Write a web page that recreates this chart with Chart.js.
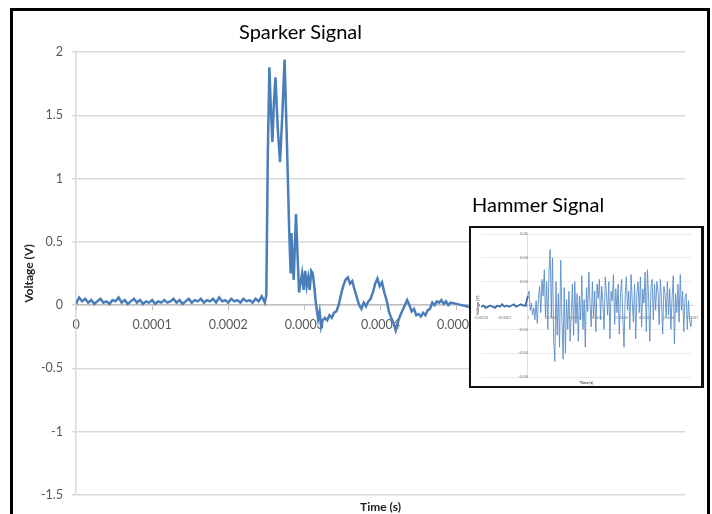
<!DOCTYPE html>
<html>
<head>
<meta charset="utf-8">
<script src="https://cdn.jsdelivr.net/npm/chart.js@4.4.0/dist/chart.umd.min.js"></script>
<style>
html, body { margin: 0; padding: 0; background: #fff; }
#page { position: relative; width: 712px; height: 514px; overflow: hidden; font-family: Lato, "Open Sans", sans-serif; }
#mainChart { position: absolute; left: 0; top: 0; }
#frame { position: absolute; left: 10px; top: 8px; width: 700px; height: 530px; border: 3px solid #000; box-sizing: border-box; pointer-events: none; }
.label { position: absolute; font-size: 20px; color: #000; white-space: nowrap; line-height: 1; }
#inset { position: absolute; left: 469px; top: 226px; width: 235px; height: 162px; border: 2px solid #111; border-right-width: 3px; box-sizing: border-box; background: #fff; }
#insetChart { position: absolute; left: 0; top: 0; }
</style>
</head>
<body>
<div id="page">
  <canvas id="mainChart" width="712" height="514"></canvas>
  <div class="label" id="sparkerTitle" style="left:239px; top:21px;">Sparker Signal</div>
  <div class="label" id="hammerTitle" style="left:472px; top:194px;">Hammer Signal</div>
  <div id="inset"><canvas id="insetChart" width="230" height="158"></canvas></div>
  <div id="frame"></div>
</div>
<script>
// Sparker signal: time in microseconds, voltage in V
const sparkerTimeUs = [
  0, 4, 8, 12, 16, 20, 24, 28, 32, 36, 40, 44, 48, 52, 56, 60, 64, 68, 72, 76,
  80, 84, 88, 92, 96, 100, 104, 108, 112, 116, 120, 124, 128, 132, 136, 140, 144, 148, 152, 156,
  160, 164, 168, 172, 176, 180, 184, 188, 192, 196, 200, 204, 208, 212, 216, 220, 224, 228, 232, 236,
  240, 244, 248, 250, 252, 254, 256, 258, 260, 262, 265, 268, 271, 274, 277, 280, 282, 283, 285, 286,
  288, 289, 291, 293, 295, 297, 299, 301, 303, 305, 307, 309, 311, 313, 315, 318, 320, 322, 324, 327,
  330, 333, 336, 339, 342, 345, 348, 351, 354, 357, 360, 363, 366, 369, 372, 375, 378, 381, 384, 387,
  390, 393, 396, 399, 402, 405, 408, 411, 414, 417, 420, 423, 426, 429, 432, 435, 438, 441, 444, 447,
  450, 453, 456, 459, 462, 465, 468, 471, 474, 477, 480, 483, 486, 489, 492, 500, 520, 540, 560, 580,
  600, 620, 640, 660, 680, 700, 720, 740, 760, 780, 800
];
const sparkerVolt = [
  0.01, 0.06, 0.03, 0.05, 0.02, 0.04, 0.01, 0.03, 0.05, 0.02, 0.03, 0.01, 0.04, 0.03, 0.06, 0.02, 0.04, 0.01, 0.03, 0.05,
  0.02, 0.04, 0.01, 0.03, 0.02, 0.04, 0.01, 0.03, 0.02, 0.04, 0.02, 0.03, 0.05, 0.02, 0.04, 0.01, 0.03, 0.05, 0.02, 0.04,
  0.03, 0.05, 0.02, 0.04, 0.03, 0.05, 0.02, 0.06, 0.03, 0.04, 0.02, 0.05, 0.03, 0.04, 0.02, 0.05, 0.03, 0.04, 0.02, 0.05,
  0.03, 0.07, 0.02, 0.08, 1.2, 1.88, 1.55, 1.29, 1.6, 1.8, 1.4, 1.13, 1.5, 1.94, 1.3, 0.6, 0.25, 0.57, 0.3, 0.2,
  0.55, 0.72, 0.4, 0.1, 0.18, 0.25, 0.12, 0.27, 0.15, 0.22, 0.12, 0.27, 0.25, 0.15, 0.02, -0.11, -0.05, -0.17, -0.12, -0.1,
  -0.12, -0.08, -0.1, -0.06, -0.05, 0.0, 0.08, 0.15, 0.2, 0.22, 0.17, 0.19, 0.12, 0.06, 0.0, -0.03, 0.02, -0.01, 0.03, 0.05,
  0.1, 0.17, 0.21, 0.15, 0.18, 0.1, 0.04, -0.05, -0.1, -0.14, -0.2, -0.13, -0.08, -0.04, 0.0, 0.04, 0.0, -0.05, -0.03, -0.08,
  -0.07, -0.09, -0.06, -0.08, -0.04, -0.03, 0.02, 0.0, 0.03, 0.02, 0.04, 0.01, 0.03, 0.0, 0.02, 0.01, -0.02, 0.03, 0.0, 0.02,
  -0.01, 0.02, 0.0, 0.01, -0.01, 0.02, 0.0, 0.01, 0.0, 0.01, 0.0
];

// Hammer signal (inset): pre-trigger every 10 us from -200, post-trigger every 5 us from 0
const hammerPreStartUs = -200;
const hammerPreStepUs = 10;
const hammerPreVolt = [
  -0.001, 0.000, -0.002, -0.001, 0.000, -0.001, -0.002, 0.000, -0.001, 0.001,
  -0.001, 0.000, -0.001, 0.000, 0.001, -0.001, 0.000, 0.001, 0.000, 0.000
];
const hammerPostStepUs = 5;
const hammerPostVolt = [
  0.008, 0.012, -0.004, 0.002, -0.008, -0.002, -0.012, 0.004, -0.015, 0.006, 0.016, -0.006, 0.022, 0.008, 0.03, -0.01, 0.02, -0.02, 0.028, 0.047,
  -0.01, 0.04, -0.03, -0.047, 0.02, -0.025, 0.01, -0.035, 0.038, -0.01, -0.045, 0.015, -0.04, 0.005, -0.02, 0.012, -0.03, -0.008, 0.018, -0.025,
  0.02, -0.015, 0.01, -0.03, 0.008, -0.012, 0.025, -0.02, 0.005, -0.035, 0.015, -0.005, 0.028, 0.002, -0.018, 0.02, -0.01, 0.012, -0.022, 0.018,
  0.006, 0.022, -0.012, 0.016, 0.002, -0.02, 0.024, 0.01, -0.008, 0.02, -0.028, 0.012, 0.004, 0.026, -0.016, 0.014, -0.006, 0.018, -0.024, 0.01,
  0.022, -0.01, -0.035, 0.008, 0.024, -0.004, 0.012, -0.02, 0.026, 0.004, -0.014, 0.018, -0.028, 0.01, 0.02, -0.006, 0.024, -0.018, 0.014, 0.002,
  0.028, -0.022, 0.03, 0.006, -0.03, 0.016, 0.022, -0.012, 0.018, -0.004, 0.02, 0.012, -0.016, 0.022, 0.004, -0.024, 0.016, 0.01, -0.01, 0.02,
  -0.008, 0.014, -0.02, 0.006, 0.025, -0.032, 0.01, -0.006, 0.018, -0.014, 0.026, -0.004, 0.012, -0.022, 0.006, 0.01, -0.02, 0.004, -0.012, -0.018,
  -0.01
];

const mainTickLabels = ['0', '0.0001', '0.0002', '0.0003', '0.0004', '0.0005', '0.0006', '0.0007', '0.0008'];
const insetTickLabels = ['-0.0002', '-0.0001', '0', '0.0001', '0.0002', '0.0003', '0.0004', '0.0005', '0.0006', '0.0007'];

const fontFamily = 'Lato, "Open Sans", sans-serif';

function usLabel(labels, startUs) {
  return v => labels[Math.round((v - startUs) / 100)] ?? '';
}

new Chart(document.getElementById('mainChart'), {
  type: 'line',
  data: {
    datasets: [{
      data: sparkerTimeUs.map((t, i) => ({ x: t, y: sparkerVolt[i] })),
      borderColor: '#4a7ebb',
      borderWidth: 2.5,
      pointRadius: 0,
      tension: 0
    }]
  },
  options: {
    responsive: false,
    animation: false,
    layout: { padding: { left: 12, right: 27, top: 52, bottom: 0 } },
    plugins: { legend: { display: false }, tooltip: { enabled: false } },
    scales: {
      x: {
        type: 'linear',
        position: { y: 0 },
        min: 0, max: 800,
        ticks: { stepSize: 100, callback: usLabel(mainTickLabels, 0), color: '#595959', padding: 7, maxRotation: 0, font: { family: fontFamily, size: 12.5 } },
        grid: { display: true, drawOnChartArea: false, tickLength: 5, color: '#bfbfbf' },
        border: { color: '#bfbfbf', width: 1.5 }
      },
      y: {
        min: -1.5, max: 2,
        ticks: { stepSize: 0.5, color: '#595959', padding: 9, font: { family: fontFamily, size: 12.5 },
          callback: v => String(Math.round(v * 10) / 10) },
        grid: { color: '#d9d9d9', lineWidth: 1.5, tickLength: 4 },
        border: { color: '#d9d9d9', width: 1.5 },
        title: { display: true, text: 'Voltage (V)', color: '#222', font: { family: fontFamily, size: 12, weight: 'bold' }, padding: { top: 10, bottom: 0 } },
        afterFit: s => { s.width = 64; }
      },
      xTitle: {
        type: 'linear',
        position: 'bottom',
        ticks: { display: false },
        grid: { display: false },
        border: { display: false },
        title: { display: true, text: 'Time (s)', color: '#222', font: { family: fontFamily, size: 12, weight: 'bold' }, padding: { top: 4, bottom: 0 } },
        afterFit: s => { s.height = 19; }
      }
    }
  }
});

const insetData = hammerPreVolt.map((v, i) => ({ x: hammerPreStartUs + i * hammerPreStepUs, y: v }));
insetData.push({ x: 0, y: hammerPostVolt[0] });
const insetPost = hammerPostVolt.map((v, i) => ({ x: i * hammerPostStepUs, y: v }));

new Chart(document.getElementById('insetChart'), {
  type: 'line',
  data: {
    datasets: [{
      data: insetData,
      borderColor: '#3a6aaa',
      borderWidth: 1.8,
      pointRadius: 0,
      tension: 0
    }, {
      data: insetPost,
      borderColor: '#5b8dc9',
      borderWidth: 0.9,
      pointRadius: 0,
      tension: 0
    }]
  },
  options: {
    responsive: false,
    animation: false,
    layout: { padding: { left: 0, right: 9, top: 6, bottom: 0 } },
    plugins: { legend: { display: false }, tooltip: { enabled: false } },
    scales: {
      x: {
        type: 'linear',
        position: { y: 0 },
        min: -200, max: 700,
        ticks: { stepSize: 100, callback: usLabel(insetTickLabels, -200), color: '#777', padding: 2, maxRotation: 0, autoSkip: false, font: { family: fontFamily, size: 4 } },
        grid: { display: false },
        border: { color: '#bbb', width: 0.6 }
      },
      y: {
        type: 'linear',
        position: { x: 0 },
        min: -0.06, max: 0.06,
        ticks: { stepSize: 0.02, color: '#777', padding: 3, font: { family: fontFamily, size: 4 },
          callback: v => Math.abs(v) < 1e-9 ? '0' : v.toFixed(2) },
        grid: { color: '#e3e3e3', lineWidth: 0.7, drawTicks: false },
        border: { color: '#d0d0d0', width: 0.7 }
      },
      yTitle: {
        type: 'linear',
        position: 'left',
        ticks: { display: false },
        grid: { display: false },
        border: { display: false },
        title: { display: true, text: 'Voltage (V)', color: '#444', font: { family: fontFamily, size: 4, weight: 'bold' }, padding: { top: 4, bottom: 0 } },
        afterFit: s => { s.width = 10; }
      },
      xTitle: {
        type: 'linear',
        position: 'bottom',
        ticks: { display: false },
        grid: { display: false },
        border: { display: false },
        title: { display: true, text: 'Time (s)', color: '#444', font: { family: fontFamily, size: 4, weight: 'bold' }, padding: 1 },
        afterFit: s => { s.height = 9; }
      }
    }
  }
});
</script>
</body>
</html>
